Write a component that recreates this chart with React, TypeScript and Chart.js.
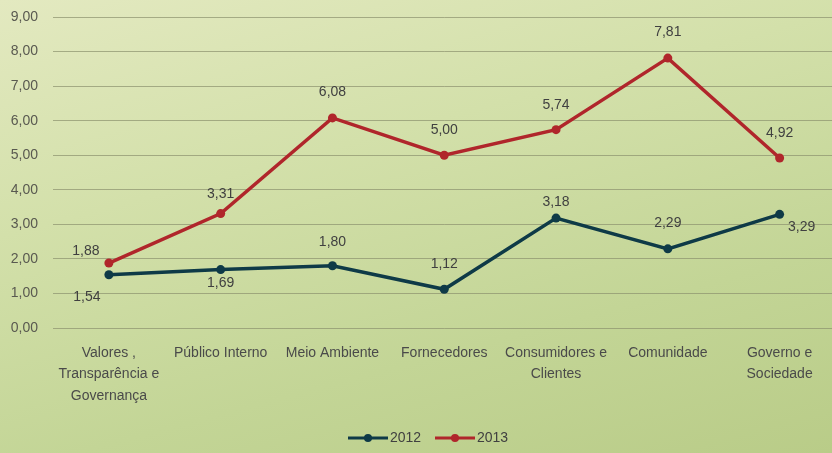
import React, { useEffect, useRef } from "react";
import { Chart, registerables } from "chart.js";

Chart.register(...registerables);

const categories: string[][] = [
  ["Valores ,", "Transparência e", "Governança"],
  ["Público Interno"],
  ["Meio Ambiente"],
  ["Fornecedores"],
  ["Consumidores e", "Clientes"],
  ["Comunidade"],
  ["Governo e", "Sociedade"],
];
const series2012: number[] = [1.54, 1.69, 1.8, 1.12, 3.18, 2.29, 3.29];
const series2013: number[] = [1.88, 3.31, 6.08, 5.0, 5.74, 7.81, 4.92];
const seriesNames: string[] = ["2012", "2013"];

// label placement offsets (style, not data)
const labelOffsets2012: [number, number][] = [
  [-22, 22], [0, 14], [0, -24], [0, -25], [0, -16], [0, -26], [22, 13],
];
const labelOffsets2013: [number, number][] = [
  [-23, -12], [0, -19], [0, -26], [0, -25], [0, -25], [0, -26], [0, -25],
];

const fmt = (v: number) => v.toFixed(2).replace(".", ",");

export default function App() {
  const ref = useRef<HTMLCanvasElement>(null);
  useEffect(() => {
    if (!ref.current) return;
    const offsets = [labelOffsets2012, labelOffsets2013];
    const labelPlugin = {
      id: "valueLabels",
      afterDatasetsDraw(chart: any) {
        const ctx = chart.ctx;
        ctx.save();
        ctx.font = "14px 'Liberation Sans', Arial, sans-serif";
        ctx.fillStyle = "#404040";
        ctx.textAlign = "center";
        ctx.textBaseline = "middle";
        chart.data.datasets.forEach((ds: any, di: number) => {
          const meta = chart.getDatasetMeta(di);
          meta.data.forEach((pt: any, i: number) => {
            const [dx, dy] = offsets[di][i];
            ctx.fillText(fmt(ds.data[i]), pt.x + dx, pt.y + dy);
          });
        });
        ctx.restore();
      },
    };
    const legendPlugin = {
      id: "customLegend",
      afterDraw(chart: any) {
        const ctx = chart.ctx;
        ctx.save();
        ctx.font = "14px 'Liberation Sans', Arial, sans-serif";
        ctx.textBaseline = "middle";
        ctx.textAlign = "left";
        const y = 438;
        const starts = [348, 435];
        chart.data.datasets.forEach((ds: any, di: number) => {
          const x0 = starts[di];
          ctx.strokeStyle = ds.borderColor;
          ctx.lineWidth = 3;
          ctx.beginPath();
          ctx.moveTo(x0, y);
          ctx.lineTo(x0 + 40, y);
          ctx.stroke();
          ctx.fillStyle = ds.borderColor;
          ctx.beginPath();
          ctx.arc(x0 + 20, y, 4, 0, Math.PI * 2);
          ctx.fill();
          ctx.fillStyle = "#404040";
          ctx.fillText(ds.label, x0 + 42, y);
        });
        ctx.restore();
      },
    };
    const chart = new Chart(ref.current, {
      type: "line",
      data: {
        labels: categories,
        datasets: [
          {
            label: seriesNames[0],
            data: series2012,
            borderColor: "#0e3a47",
            backgroundColor: "#0e3a47",
            borderWidth: 3.5,
            pointRadius: 4.5,
            pointBackgroundColor: "#0e3a47",
            pointBorderWidth: 0,
            tension: 0,
          },
          {
            label: seriesNames[1],
            data: series2013,
            borderColor: "#b0262b",
            backgroundColor: "#b0262b",
            borderWidth: 3.5,
            pointRadius: 4.5,
            pointBackgroundColor: "#b0262b",
            pointBorderWidth: 0,
            tension: 0,
          },
        ],
      },
      options: {
        animation: false,
        responsive: false,
        maintainAspectRatio: false,
        layout: { padding: { top: 17, right: 3, left: 0, bottom: 0 } },
        plugins: { legend: { display: false }, tooltip: { enabled: false } },
        scales: {
          x: {
            offset: true,
            grid: { display: false, drawTicks: false },
            border: { display: false },
            ticks: {
              color: "#4a4a4a",
              font: { family: "'Liberation Sans', Arial, sans-serif", size: 14, lineHeight: 1.55 },
              padding: 14,
              maxRotation: 0,
              autoSkip: false,
            },
            afterFit(scale: any) {
              scale.height = 125;
            },
          },
          y: {
            min: 0,
            max: 9,
            ticks: {
              stepSize: 1,
              color: "#595950",
              font: { family: "'Liberation Sans', Arial, sans-serif", size: 14 },
              padding: 15,
              callback: (v: any) => fmt(Number(v)),
            },
            grid: { color: "rgba(140,145,110,0.7)", lineWidth: 1, drawTicks: false },
            border: { display: false },
            afterFit(scale: any) {
              scale.width = 53;
              scale.paddingTop = 0;
              scale.paddingBottom = 0;
            },
          },
        },
      },
      plugins: [labelPlugin, legendPlugin],
    });
    return () => chart.destroy();
  }, []);
  return (
    <div
      style={{
        position: "fixed",
        left: 0,
        top: 0,
        width: 832,
        height: 453,
        overflow: "hidden",
        background:
          "linear-gradient(165deg, #e3e9c0 0%, #d3e0aa 35%, #c3d596 70%, #b9cc88 100%)",
      }}
    >
      <canvas ref={ref} width={840} height={453} style={{ display: "block" }} />
    </div>
  );
}
